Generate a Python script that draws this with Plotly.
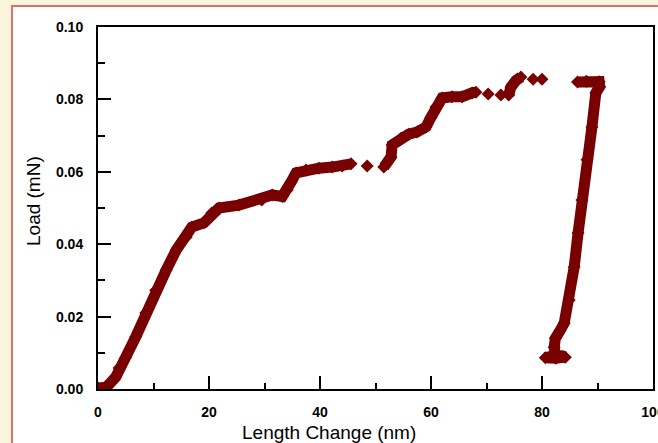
import plotly.graph_objects as go

# Length change (nm) vs load (mN); None separates gaps in the recorded trace
length_nm = [
    # loading branch
    0.0, 1.5, 3.2, 3.8, 5.0, 6.8, 8.6, 10.4, 12.3, 14.1, 15.9, 16.9, 19.1,
    20.5, 21.8, 25.4, 29.5, 31.4, 33.2, 34.1, 34.8, 35.7, 37.5, 39.8, 42.2,
    44.0, 45.6,
    None, 48.5,
    None, 51.5, 52.8, 53.0, 54.6, 56.0, 57.5, 59.1, 60.0, 60.9, 62.0, 63.8,
    65.6, 67.4, 68.1,
    None, 70.3,
    None, 72.6,
    None, 74.0, 74.4, 75.3, 76.2,
    None, 78.4,
    None, 80.0,
    # unloading branch
    None, 86.4, 88.0, 90.3, 90.4, 89.7, 89.0, 88.1, 87.2, 86.5, 85.8, 84.9,
    84.0, 83.2, 82.4, 82.2, 82.4, 83.8, 84.2, 82.5, 80.6, 81.5,
]
load_mN = [
    0.0003, 0.0005, 0.0033, 0.0058, 0.0088, 0.0144, 0.0210, 0.0273, 0.0329,
    0.0384, 0.0420, 0.0447, 0.0459, 0.0486, 0.0500, 0.0508, 0.0522, 0.0536,
    0.0532, 0.0550, 0.0572, 0.0597, 0.0605, 0.0610, 0.0613, 0.0616, 0.0622,
    None, 0.0616,
    None, 0.0613, 0.0641, 0.0674, 0.0693, 0.0704, 0.0710, 0.0724, 0.0751,
    0.0779, 0.0804, 0.0807, 0.0807, 0.0818, 0.0820,
    None, 0.0815,
    None, 0.0812,
    None, 0.0812, 0.0834, 0.0852, 0.0862,
    None, 0.0856,
    None, 0.0856,
    None, 0.0848, 0.0850, 0.0849, 0.0835, 0.0818, 0.0724, 0.0633, 0.0522,
    0.0431, 0.0337, 0.0246, 0.0182, 0.0160, 0.0140, 0.0115, 0.0095, 0.0090,
    0.0088, 0.0085, 0.0086, 0.0090,
]

x_ticks = [0, 20, 40, 60, 80, 100]
x_tick_text = ["0", "20", "40", "60", "80", "100"]
y_ticks = [0.00, 0.02, 0.04, 0.06, 0.08, 0.10]
y_tick_text = ["0.00", "0.02", "0.04", "0.06", "0.08", "0.10"]

COLOR = "#780000"
BG = "#FBF5DC"
W, H = 658, 443
L, R, T, B = 98, 5, 27, 54
pw, ph = W - L - R, H - T - B

fig = go.Figure()
fig.add_trace(go.Scatter(
    x=length_nm, y=load_mN, mode="lines+markers",
    line=dict(color=COLOR, width=11),
    marker=dict(symbol="diamond", size=10, color=COLOR),
    connectgaps=False, showlegend=False, hoverinfo="x+y",
))

def px_x(p):
    return (p - L) / pw

def px_y(p):
    return (H - B - p) / ph

fig.add_shape(type="rect", xref="paper", yref="paper",
              x0=px_x(12), x1=px_x(700), y0=px_y(480), y1=px_y(6),
              fillcolor="white", line=dict(color="#D9736B", width=2),
              layer="below")

tickfont = dict(family="Arial, Liberation Sans, sans-serif", size=14,
                color="black", weight="bold")
axis_common = dict(
    showgrid=False, zeroline=False, showline=True, linecolor="black",
    linewidth=2, mirror=True, ticks="inside", ticklen=13, tickwidth=2,
    tickcolor="black", tickfont=tickfont, automargin=False,
)
fig.update_xaxes(range=[0, 100], tickvals=x_ticks, ticktext=x_tick_text,
                 minor=dict(ticks="inside", ticklen=6, tickwidth=2,
                            tickcolor="black", dtick=10, tick0=0),
                 ticklabelstandoff=9, ticklabeloverflow="allow",
                 **axis_common)
fig.update_yaxes(range=[0, 0.1], tickvals=y_ticks, ticktext=y_tick_text,
                 minor=dict(ticks="inside", ticklen=7, tickwidth=2,
                            tickcolor="black", dtick=0.01, tick0=0),
                 ticklabelstandoff=10, **axis_common)

titlefont = dict(family="Arial, Liberation Sans, sans-serif", size=19,
                 color="black")
fig.add_annotation(text="Length Change (nm)", xref="paper", yref="paper",
                   x=px_x(329), y=px_y(433), showarrow=False,
                   xanchor="center", yanchor="middle", font=titlefont)
fig.add_annotation(text="Load (mN)", xref="paper", yref="paper",
                   x=px_x(33), y=px_y(201), showarrow=False, textangle=-90,
                   xanchor="center", yanchor="middle", font=titlefont)

fig.update_layout(
    width=W, height=H, margin=dict(l=L, r=R, t=T, b=B, autoexpand=False),
    paper_bgcolor=BG, plot_bgcolor="rgba(0,0,0,0)",
)
fig.write_html(
    "out.html",
    config={"displayModeBar": False},
    post_script=("document.body.style.margin='0';"
                 "document.body.style.background='" + BG + "';"),
)
